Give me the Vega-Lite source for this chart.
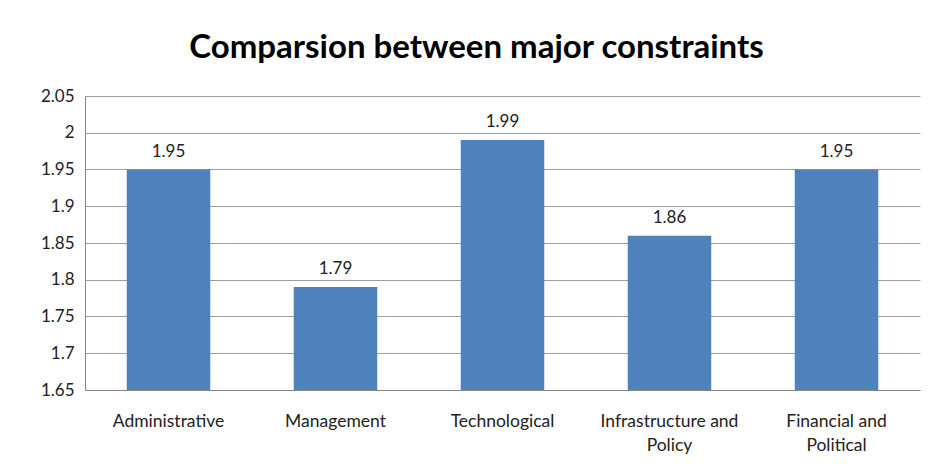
{
  "$schema": "https://vega.github.io/schema/vega-lite/v6.json",
  "autosize": {"type": "none"},
  "width": 835,
  "height": 294,
  "padding": {"left": 85, "top": 96, "right": 8, "bottom": 84},
  "background": "white",
  "config": {"view": {"stroke": null}, "font": "Lato"},
  "title": {
    "text": "Comparsion between major constraints",
    "font": "Lato",
    "fontSize": 33,
    "fontWeight": "bold",
    "color": "#000000",
    "anchor": "middle",
    "dx": -26,
    "offset": 22
  },
  "data": {
    "values": [
      {"constraint": "Administrative", "score": 1.95},
      {"constraint": "Management", "score": 1.79},
      {"constraint": "Technological", "score": 1.99},
      {"constraint": "Infrastructure and Policy", "score": 1.86},
      {"constraint": "Financial and Political", "score": 1.95}
    ]
  },
  "encoding": {
    "x": {
      "field": "constraint",
      "type": "nominal",
      "sort": null,
      "scale": {"paddingInner": 0.5, "paddingOuter": 0.25},
      "axis": {
        "title": null,
        "labelAngle": 0,
        "labelFont": "Lato",
        "labelFontSize": 17.5,
        "labelColor": "#222222",
        "labelPadding": 22,
        "labelLineHeight": 24,
        "ticks": false,
        "domainColor": "#868686",
        "labelExpr": "datum.label == 'Infrastructure and Policy' ? ['Infrastructure and', 'Policy'] : datum.label == 'Financial and Political' ? ['Financial and', 'Political'] : datum.label"
      }
    },
    "y": {
      "field": "score",
      "type": "quantitative",
      "scale": {"domain": [1.65, 2.05], "zero": false, "nice": false},
      "axis": {
        "title": null,
        "values": [1.65, 1.7, 1.75, 1.8, 1.85, 1.9, 1.95, 2, 2.05],
        "format": "~g",
        "labelFont": "Lato",
        "labelFontSize": 17,
        "labelColor": "#222222",
        "labelPadding": 11,
        "ticks": false,
        "domainColor": "#868686",
        "gridColor": "#868686",
        "gridOpacity": 0.8
      }
    }
  },
  "layer": [
    {"mark": {"type": "bar", "color": "#4F81BD", "clip": true}},
    {
      "mark": {"type": "text", "baseline": "bottom", "dy": -9, "fontSize": 17, "font": "Lato", "color": "#222222"},
      "encoding": {"text": {"field": "score", "type": "quantitative", "format": ".2f"}}
    }
  ]
}
